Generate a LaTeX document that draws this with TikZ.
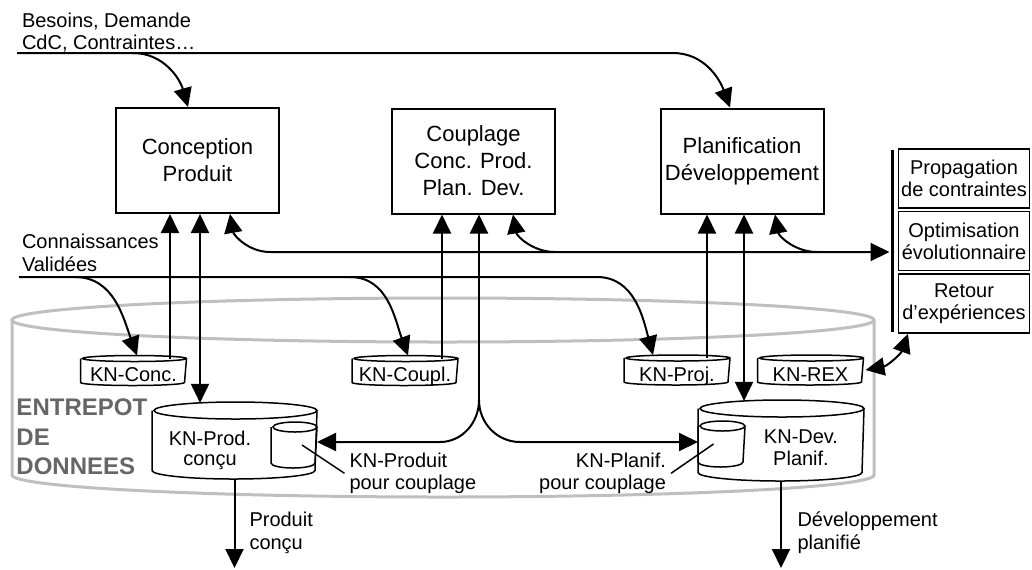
\documentclass[tikz,border=0pt]{standalone}
\usepackage{fontspec}
\setmainfont{Liberation Sans}
\usetikzlibrary{arrows.meta, positioning}
\tikzset{ % global config
    >={Triangle[length=9.5pt, width=9pt]}, % big filled arrow heads
    procbox/.style={draw, line width=1pt, minimum width=81.5pt, minimum height=52.5pt, inner sep=0pt, align=center, font=\fontsize{11}{13.5}\selectfont}, % the three activities
    toolbox/.style={draw, line width=0.75pt, minimum width=65.5pt, minimum height=29.5pt, inner sep=0pt, align=center, font=\fontsize{10}{11}\selectfont}, % tools on the right
    knbody/.style={inner sep=0pt, font=\fontsize{10}{11}\selectfont}, % body of a base, outline drawn by \kncylinder
    smallkn/.style={knbody, minimum width=52pt, minimum height=10.5pt, text height=11pt, text depth=0pt},
    cylline/.style={draw, line width=0.75pt},
    lbl/.style={inner sep=0pt, align=left, font=\fontsize{10}{11}\selectfont}, % free texts
    warehouse/.style={draw=gray!50, line width=1.5pt},
}
% outline of a knowledge base: node, x radius, y radius
\newcommand\kncylinder[3]{%
    \draw[cylline] (#1.north west) -- (#1.south west) arc[start angle=180, end angle=360, x radius=#2, y radius=#3]
        -- (#1.north east) arc[start angle=0, end angle=360, x radius=#2, y radius=#3];
}
\begin{document}
\begin{tikzpicture}[x=0.5pt, y=-0.5pt, line width=1pt]
    \useasboundingbox (0,0) rectangle (1032,569);

    % data warehouse
    \draw[warehouse] (12,320) -- (12,475) arc[start angle=180, end angle=360, x radius=215.5pt, y radius=11pt] -- (874,320);
    \draw[warehouse] (443,320) ellipse[x radius=215.5pt, y radius=11pt];
    \node[inner sep=0pt, anchor=north west, align=left, text=black!60, font=\fontsize{12}{14.75}\selectfont\bfseries] (dw) at (15.5,398) {ENTREPOT\\DE\\DONNEES};

    % activities
    \node[procbox] (conc) at (197.5,160.5) {Conception\\Produit};
    \node[procbox] (coupl) at (473.5,161) {Couplage\\Conc. Prod.\\Plan. Dev.};
    \node[procbox] (plan) at (742,161) {Planification\\Développement};

    % tools
    \node[toolbox] (prop) at (964,178.5) {Propagation\\de contraintes};
    \node[toolbox, below=1pt of prop] (optim) {Optimisation\\évolutionnaire};
    \node[toolbox, below=1pt of optim] (rex) {Retour\\d’expériences};
    \node[fill, minimum width=1.5pt, minimum height=91pt, inner sep=0pt] (bar) at (892,241) {};

    % knowledge bases
    \node[smallkn] (knconc) at (133.5,370.5) {KN-Conc.};
    \node[smallkn] (kncoupl) at (405,370.5) {KN-Coupl.};
    \node[smallkn] (knproj) at (677,370) {KN-Proj.};
    \node[smallkn] (knrex) at (810.5,370) {KN-REX};
    \node[knbody, minimum width=81.5pt, minimum height=29pt] (knprod) at (234.5,440.5) {};
    \node[knbody, minimum width=82pt, minimum height=31pt] (kndev) at (781,440.5) {};
    \node[knbody, minimum width=22pt, minimum height=17pt] (knprodc) at (294,445) {};
    \node[knbody, minimum width=22.5pt, minimum height=17pt] (kndevc) at (721.5,444) {};
    \kncylinder{knconc}{26pt}{1.5pt}
    \kncylinder{kncoupl}{26pt}{1.5pt}
    \kncylinder{knproj}{26pt}{1.5pt}
    \kncylinder{knrex}{26pt}{1.5pt}
    \kncylinder{knprod}{40.75pt}{4.25pt}
    \kncylinder{kndev}{41pt}{4.25pt}
    \kncylinder{knprodc}{11pt}{2.5pt}
    \kncylinder{kndevc}{11.25pt}{2.5pt}
    \node[lbl, anchor=north, align=center, font=\fontsize{10}{10}\selectfont] (knprodtxt) at (210,430) {KN-Prod.\\conçu};
    \node[lbl, anchor=north, align=center, font=\fontsize{10}{11}\selectfont] (kndevtxt) at (801,429) {KN-Dev.\\Planif.};

    % texts
    \node[lbl, anchor=north west] (needs) at (21,12) {Besoins, Demande\\CdC, Contraintes…};
    \node[lbl, anchor=north west, font=\fontsize{10}{11.3}\selectfont] (known) at (21,233) {Connaissances\\Validées};
    \node[lbl, anchor=north west] (kpl) at (348.5,452) {KN-Produit\\pour couplage};
    \node[lbl, anchor=north east, align=right] (kdl) at (667,452) {KN-Planif.\\pour couplage};
    \node[lbl, anchor=north west, font=\fontsize{10}{11.5}\selectfont] (prodout) at (248.5,510.5) {Produit\\conçu};
    \node[lbl, anchor=north west, font=\fontsize{10}{11.5}\selectfont] (devout) at (796.5,510.5) {Développement\\planifié};

    % needs and constraints
    \coordinate (needs-in) at (17,53);
    \coordinate (needs-b) at (133,53);
    \coordinate (needs-e) at (673,53);
    \draw[->] (needs-in) -- (needs-e) to[out=0, in=110] ([xshift=-6pt]plan.north);
    \draw[->] (needs-b) to[out=0, in=106] ([xshift=-4.75pt]conc.north);

    % validated knowledge
    \coordinate (known-in) at (19,277);
    \coordinate (known-b1) at (75,277);
    \coordinate (known-b2) at (350,277);
    \coordinate (known-e) at (597,277);
    \draw[->] (known-in) -- (known-e) to[out=0, in=105] ([xshift=-12pt, yshift=1.5pt]knproj.north);
    \draw[->] (known-b1) to[out=0, in=110] ([xshift=1.75pt, yshift=1.5pt]knconc.north);
    \draw[->] (known-b2) to[out=0, in=110] ([xshift=1.5pt, yshift=1.5pt]kncoupl.north);

    % tools bus
    \coordinate (bus-a) at (270,252);
    \coordinate (bus-b) at (555,252);
    \coordinate (bus-c) at (817,252);
    \draw[<->] ([xshift=16.25pt]conc.south) to[out=-80, in=180] (bus-a) -- (bus-a -| bar.west);
    \draw[->] (bus-b) to[out=180, in=-80] ([xshift=19.75pt]coupl.south);
    \draw[->] (bus-c) to[out=180, in=-80] ([xshift=16.5pt]plan.south);

    % bases to activities
    \draw[->] ([xshift=18.25pt]knconc.north) -- ([xshift=-13.75pt]conc.south);
    \draw[<->] ([xshift=1.25pt]conc.south) -- ([xshift=-17.25pt, yshift=3.8pt]knprod.north);
    \draw[->] ([xshift=18.5pt]kncoupl.north) -- ([xshift=-15.75pt]coupl.south);
    \draw[->] ([xshift=15pt]knproj.north) -- ([xshift=-17.5pt]plan.south);
    \draw[<->] ([xshift=1pt]plan.south) -- ([xshift=-18.5pt, yshift=3.8pt]kndev.north);

    % coupling
    \coordinate (split) at (479,400);
    \coordinate (split-l) at (440,442);
    \coordinate (split-r) at (520,442);
    \draw[->] (split) -- ([xshift=2.75pt]coupl.south);
    \draw[->] (split) to[out=-90, in=0] (split-l) -- ([yshift=1.5pt]knprodc.east);
    \draw[->] (split) to[out=-90, in=180] (split-r) -- ([yshift=1pt]kndevc.west);
    \draw[line width=0.75pt] ([xshift=4pt]knprodc.center) -- ([xshift=-2pt]kpl.west);
    \draw[line width=0.75pt] ([xshift=-4pt]kndevc.center) -- ([xshift=2pt]kdl.east);

    % experience feedback
    \draw[<->] ([xshift=1pt]knrex.east) to[bend right=30] ([xshift=-28pt]rex.south);

    % outputs
    \coordinate (prod-out) at (234.5,568);
    \coordinate (dev-out) at (781,568);
    \draw[->] ([yshift=-4.25pt]knprod.south) -- (prod-out);
    \draw[->] ([yshift=-4.25pt]kndev.south) -- (dev-out);

\end{tikzpicture}
\end{document}
